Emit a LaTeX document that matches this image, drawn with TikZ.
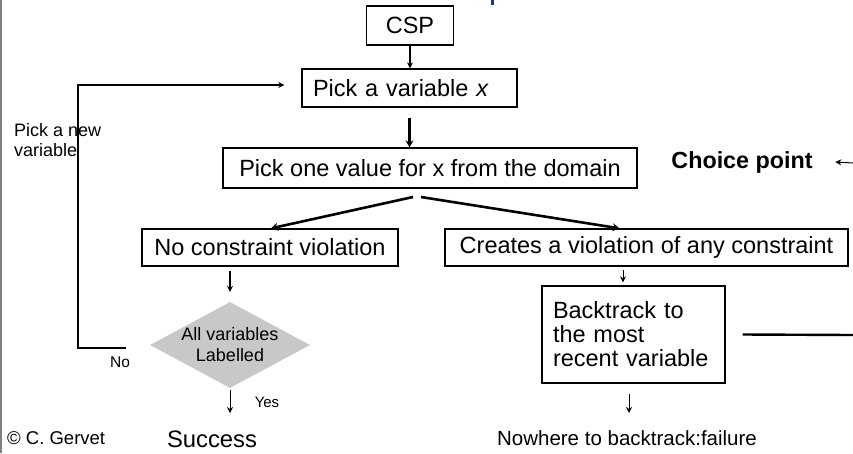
\documentclass[tikz,border=0pt]{standalone}
\usepackage{fontspec}
\setmainfont{Liberation Sans}
\usetikzlibrary{calc}
\usetikzlibrary{shapes.geometric}
\usetikzlibrary{arrows.meta}
\definecolor{titleblue}{RGB}{31,56,120}
\definecolor{framegray}{RGB}{128,128,128}
\definecolor{testgray}{RGB}{200,200,200}
\tikzset{
	stage/.style={rectangle, draw, line width=1.3pt, inner sep=0pt, font=\fontsize{23.5}{24}\selectfont},
	test/.style={diamond, fill=testgray, inner sep=0pt, minimum width=160pt, minimum height=86pt},
	note/.style={inner sep=0pt, align=left},
	flow/.style={draw, line width=1.3pt, -{Stealth[length=6pt,width=6pt]}},
	bigflow/.style={draw, line width=2.6pt, -{Stealth[length=7pt,width=8pt]}}
}

\begin{document}
\begin{tikzpicture}[x=1pt, y=-1pt]
\useasboundingbox (0,0) rectangle (853,453);
\draw[framegray, line width=2pt] (1,0) -- (1,453);
\fill[titleblue] (491,0) rectangle (494,5);

\node[stage, minimum width=87pt, minimum height=39pt] (csp) at (410,25.5) {CSP};

\node[stage, text width=193pt, inner xsep=11pt, align=left, minimum height=38pt] (pickvar) at (409.5,88) {Pick a variable \textit{x}};

\node[stage, minimum width=414pt, minimum height=40pt] (pickval) at (430,168) {Pick one value for x from the domain};

\node[stage, minimum width=256pt, minimum height=37pt] (nocv) at (270,247.5) {No constraint violation};

\node[stage, minimum width=403pt, minimum height=37pt] (viol) at (646.5,247.5) {Creates a violation of any constraint};

\node[stage, text width=161pt, inner xsep=11pt, align=left, minimum height=97pt] (back) at (633.5,334.5) {Backtrack to\\the most\\recent variable};

\node[test, label={[align=center, font=\fontsize{18}{21}\selectfont]center:All variables\\Labelled}] (labelled) at (230,345) {};

\node[note, font=\bfseries\fontsize{23.3}{28}\selectfont] (choice) at (742,162) {Choice point};
\node[note, anchor=west, font=\fontsize{18}{20}\selectfont] (pnv) at (14,140) {Pick a new\\variable};
\node[note, font=\fontsize{15.5}{18}\selectfont] (no) at (120,362) {No};
\node[note, font=\fontsize{15}{18}\selectfont] (yes) at (267,402) {Yes};
\node[note, font=\fontsize{23.8}{28}\selectfont] (success) at (212,439) {Success};
\node[note, font=\fontsize{20.5}{24}\selectfont] (nowhere) at (627,438) {Nowhere to backtrack:failure};
\node[note, anchor=west, font=\fontsize{18.5}{22}\selectfont] (copy) at (7,438) {© C. Gervet};

\coordinate (splitL) at (413,197);
\coordinate (splitR) at (421,197);
\coordinate (noend) at (126,348);
\coordinate (loopcorner) at (78,85);
\coordinate (yesend) at (230,413);
\coordinate (failend) at (629,413);
\coordinate (backexit) at (853,335);
\coordinate (choiceend) at (853,163);

\draw [flow] (csp.south) -- (csp.south |- pickvar.north);
\draw [bigflow, shorten <=10pt] (pickvar.south) -- (pickvar.south |- pickval.north);
\draw [bigflow] (splitL) -- ($(nocv.north)+(1,0)$);
\draw [bigflow] (splitR) -- ($(viol.north)+(-27,0)$);
\draw [flow, shorten <=4pt, shorten >=10pt] (nocv.south -| labelled) -- (labelled.north);
\draw [flow, line width=1pt, shorten <=3pt, shorten >=3pt] ($(viol.south)+(-23.5,0)$) -- ($(back.north)+(-10.5,0)$);
\draw [flow, line width=1pt, shorten <=2pt] (labelled.south) -- (yesend);
\draw [flow, line width=1pt, shorten <=10pt] ($(back.south)+(-4.5,0)$) -- (failend);
\draw [flow, line width=1.8pt, shorten >=17pt] (noend) -| (loopcorner) -- (loopcorner -| pickvar.west);
\draw [line width=2.4pt] ($(back.east)+(17,0)$) -- (backexit);
\draw [flow, line width=1pt] (choiceend) -- ($(choice.east)+(22.5,0)$);
\end{tikzpicture}
\end{document}
